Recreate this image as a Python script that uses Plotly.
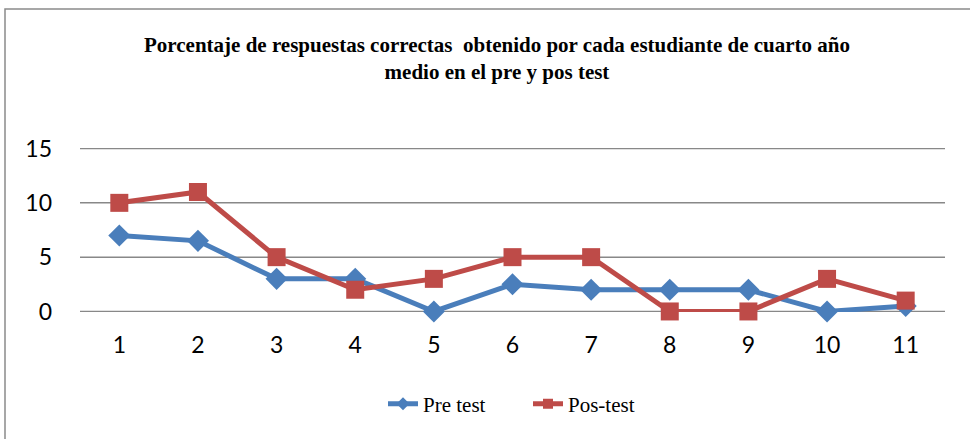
import plotly.graph_objects as go

categories = ["1", "2", "3", "4", "5", "6", "7", "8", "9", "10", "11"]
pre_test = [7, 6.5, 3, 3, 0, 2.5, 2, 2, 2, 0, 0.5]
pos_test = [10, 11, 5, 2, 3, 5, 5, 0, 0, 3, 1]
y_ticks = [0, 5, 10, 15]

W, H = 970, 439
L, R, T, B = 80, 25, 148, 127
pw = W - L - R
ph = H - T - B

def px_x(px):
    return (px - L) / pw

def px_y(py):
    return (H - B - py) / ph

BLUE = "#4A7EBB"
RED = "#BE4B48"

fig = go.Figure()
fig.add_trace(go.Scatter(
    x=categories, y=pre_test, name="Pre test", mode="lines+markers",
    line=dict(color=BLUE, width=5),
    marker=dict(symbol="diamond", size=17, color=BLUE),
    cliponaxis=False, showlegend=False, legendgroup="pre",
))
fig.add_trace(go.Scatter(
    x=categories, y=pos_test, name="Pos-test", mode="lines+markers",
    line=dict(color=RED, width=5),
    marker=dict(symbol="square", size=18, color=RED),
    cliponaxis=False, showlegend=False, legendgroup="pos",
))
# legend entries with smaller symbols
fig.add_trace(go.Scatter(
    x=[None], y=[None], name="Pre test", mode="lines+markers",
    line=dict(color=BLUE, width=5), marker=dict(symbol="diamond", size=10, color=BLUE),
    legendgroup="pre",
))
fig.add_trace(go.Scatter(
    x=[None], y=[None], name="Pos-test", mode="lines+markers",
    line=dict(color=RED, width=5), marker=dict(symbol="square", size=10, color=RED),
    legendgroup="pos",
))

grid_shapes = [dict(
    type="line", xref="paper", yref="y", x0=0, x1=1, y0=v, y1=v,
    line=dict(color="#888888", width=1.5), layer="below",
) for v in y_ticks]

fig.update_layout(
    width=W, height=H,
    margin=dict(l=L, r=R, t=T, b=B),
    paper_bgcolor="white", plot_bgcolor="white",
    title=dict(
        text="Porcentaje de respuestas correctas  obtenido por cada estudiante de cuarto año<br>medio en el pre y pos test",
        font=dict(family="Liberation Serif", size=21, color="black", weight="bold"),
        x=497 / W, xanchor="center", xref="container",
        y=1 - 52 / H, yanchor="middle", yref="container",
    ),
    xaxis=dict(
        type="category", range=[-0.5, 10.5],
        showgrid=False, showline=False, zeroline=False,
        ticks="", ticklabelstandoff=17,
        tickfont=dict(family="Lato", size=23, color="black"),
        fixedrange=True,
    ),
    yaxis=dict(
        range=[-0.05, 15.05], tickvals=y_ticks,
        showgrid=False, zeroline=False, showline=False, ticks="", ticklabelstandoff=27,
        tickfont=dict(family="Lato", size=23, color="black"),
        fixedrange=True,
    ),
    legend=dict(
        orientation="h", x=px_x(528), xanchor="center",
        y=px_y(404), yanchor="middle",
        font=dict(family="Liberation Serif", size=21, color="black"),
        bgcolor="rgba(0,0,0,0)", entrywidth=100,
    ),
    showlegend=True,
    shapes=grid_shapes + [dict(
        type="rect", xref="paper", yref="paper",
        x0=px_x(5), x1=px_x(975), y0=px_y(445), y1=px_y(9),
        line=dict(color="#8a8a8a", width=1.5), fillcolor="rgba(0,0,0,0)",
        layer="below",
    )],
)

fig.write_html(
    "out.html",
    config={"displayModeBar": False},
    post_script="document.body.style.margin='0';document.body.style.padding='0';",
)
